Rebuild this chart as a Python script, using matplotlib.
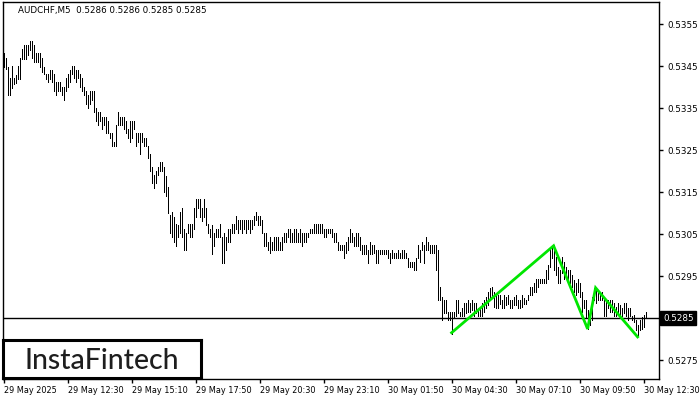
import matplotlib
import numpy as np

matplotlib.use("Agg")
import matplotlib.pyplot as plt
import matplotlib.transforms as mtransforms

symbol_line = "AUDCHF,M5  0.5286 0.5286 0.5285 0.5285"

# 5-minute bars, high / low in points (price * 1e5)
high_pts = [
    53480, 53470, 53448, 53421, 53450, 53421, 53429, 53450, 53468, 53490,
    53500, 53500, 53500, 53510, 53510, 53500, 53482, 53482, 53482, 53470,
    53448, 53430, 53430, 53440, 53440, 53430, 53411, 53411, 53411, 53401,
    53401, 53421, 53430, 53440, 53450, 53450, 53440, 53440, 53430, 53421,
    53401, 53390, 53380, 53390, 53390, 53390, 53349, 53340, 53340, 53329,
    53329, 53329, 53320, 53290, 53290, 53270, 53310, 53340, 53329, 53329,
    53329, 53320, 53300, 53320, 53320, 53320, 53290, 53290, 53290, 53290,
    53279, 53279, 53260, 53240, 53210, 53190, 53200, 53210, 53222, 53222,
    53210, 53187, 53163, 53095, 53103, 53091, 53075, 53071, 53103, 53111,
    53063, 53052, 53073, 53073, 53073, 53111, 53133, 53133, 53133, 53111,
    53133, 53111, 53073, 53063, 53071, 53052, 53061, 53061, 53074, 53044,
    53052, 53044, 53061, 53061, 53074, 53074, 53093, 53083, 53083, 53083,
    53083, 53083, 53083, 53083, 53083, 53093, 53102, 53093, 53093, 53083,
    53052, 53052, 53032, 53042, 53032, 53042, 53042, 53042, 53032, 53042,
    53052, 53052, 53061, 53061, 53052, 53061, 53061, 53052, 53061, 53052,
    53052, 53052, 53052, 53061, 53061, 53074, 53074, 53074, 53074, 53074,
    53061, 53061, 53061, 53061, 53061, 53052, 53052, 53032, 53024, 53024,
    53024, 53032, 53042, 53061, 53052, 53042, 53052, 53052, 53042, 53024,
    53024, 53024, 53013, 53032, 53024, 53024, 53013, 53013, 53013, 53013,
    53013, 53013, 53013, 53004, 53013, 53004, 53004, 53013, 53004, 53013,
    53013, 53004, 52994, 52984, 52984, 52984, 52994, 53024, 53012, 53032,
    53024, 53042, 53032, 53024, 53024, 53024, 53024, 53013, 52925, 52901,
    52894, 52894, 52865, 52865, 52865, 52865, 52894, 52894, 52865, 52873,
    52885, 52885, 52893, 52885, 52893, 52885, 52885, 52873, 52873, 52885,
    52893, 52901, 52913, 52921, 52925, 52913, 52905, 52905, 52905, 52893,
    52905, 52901, 52905, 52893, 52893, 52901, 52905, 52893, 52893, 52905,
    52897, 52893, 52905, 52925, 52925, 52933, 52944, 52944, 52944, 52944,
    52944, 52964, 52976, 53012, 53016, 53024, 52996, 52972, 52964, 52996,
    52984, 52972, 52964, 52964, 52952, 52940, 52933, 52944, 52933, 52913,
    52894, 52894, 52869, 52865, 52901, 52921, 52921, 52913, 52909, 52913,
    52893, 52893, 52893, 52893, 52893, 52885, 52877, 52885, 52881, 52873,
    52885, 52885, 52873, 52873, 52855, 52857, 52845, 52833, 52845, 52853,
    52857, 52865,
]
low_pts = [
    53448, 53444, 53380, 53380, 53398, 53406, 53409, 53418, 53418, 53467,
    53467, 53467, 53476, 53488, 53468, 53459, 53459, 53459, 53448, 53436,
    53430, 53418, 53411, 53418, 53411, 53390, 53380, 53390, 53390, 53381,
    53369, 53390, 53401, 53411, 53430, 53421, 53411, 53421, 53401, 53390,
    53380, 53359, 53349, 53359, 53369, 53340, 53320, 53310, 53320, 53300,
    53310, 53290, 53290, 53279, 53260, 53260, 53260, 53310, 53310, 53310,
    53300, 53290, 53279, 53270, 53279, 53300, 53260, 53270, 53240, 53270,
    53260, 53260, 53230, 53200, 53171, 53160, 53171, 53190, 53200, 53200,
    53151, 53141, 53101, 53052, 53042, 53032, 53022, 53042, 53052, 53042,
    53012, 53012, 53052, 53042, 53042, 53061, 53091, 53111, 53091, 53081,
    53091, 53071, 53052, 53042, 53002, 53022, 53042, 53042, 53042, 52982,
    52982, 53012, 53032, 53032, 53052, 53052, 53061, 53052, 53061, 53052,
    53061, 53052, 53061, 53052, 53061, 53071, 53083, 53071, 53071, 53052,
    53021, 53021, 53012, 53004, 53012, 53012, 53012, 53012, 53012, 53012,
    53032, 53032, 53042, 53032, 53032, 53032, 53032, 53032, 53032, 53021,
    53032, 53032, 53042, 53052, 53052, 53052, 53052, 53052, 53052, 53052,
    53042, 53042, 53052, 53052, 53042, 53032, 53032, 53012, 53013, 53013,
    52992, 53004, 53013, 53032, 53032, 53021, 53021, 53021, 53012, 53002,
    53002, 53002, 52982, 53002, 53002, 53004, 52982, 52982, 53002, 53002,
    53002, 53002, 52992, 52982, 52992, 52992, 52992, 52992, 52992, 52992,
    52992, 52992, 52972, 52972, 52972, 52964, 52964, 52992, 52984, 53012,
    52982, 53012, 53012, 53004, 53004, 53004, 52964, 52893, 52893, 52845,
    52861, 52861, 52845, 52845, 52813, 52853, 52855, 52861, 52855, 52855,
    52855, 52861, 52865, 52865, 52869, 52855, 52861, 52855, 52855, 52855,
    52865, 52873, 52881, 52893, 52901, 52877, 52873, 52873, 52883, 52873,
    52873, 52881, 52883, 52873, 52873, 52881, 52881, 52873, 52873, 52877,
    52883, 52883, 52893, 52905, 52905, 52913, 52913, 52925, 52933, 52933,
    52933, 52933, 52944, 52972, 52992, 52964, 52952, 52933, 52933, 52956,
    52944, 52944, 52933, 52933, 52925, 52913, 52905, 52913, 52901, 52865,
    52873, 52853, 52825, 52833, 52845, 52893, 52885, 52893, 52893, 52893,
    52855, 52855, 52873, 52865, 52865, 52855, 52855, 52861, 52855, 52855,
    52861, 52855, 52845, 52855, 52845, 52841, 52821, 52810, 52821, 52825,
    52829, 52853,
]

# triple bottom pattern vertices: bar index, price
pattern_bars = [224, 275, 292, 296, 317]
pattern_prices = [0.52815, 0.53022, 0.52824, 0.52922, 0.52805]

last_price = 0.5285
price_ticks = [0.5275, 0.5285, 0.5295, 0.5305, 0.5315, 0.5325, 0.5335, 0.5345, 0.5355]
time_tick_bars = [0, 32, 64, 96, 128, 160, 192, 224, 256, 288, 320]
time_labels = [
    "29 May 2025", "29 May 12:30", "29 May 15:10", "29 May 17:50",
    "29 May 20:30", "29 May 23:10", "30 May 01:50", "30 May 04:30",
    "30 May 07:10", "30 May 09:50", "30 May 12:30",
]

highs = np.array(high_pts) / 1e5
lows = np.array(low_pts) / 1e5
idx = np.arange(len(highs))

fig = plt.figure(figsize=(7.0, 4.0), dpi=100)
ax = fig.add_axes([3 / 700, 21 / 400, 656 / 700, 377 / 400])

ax.vlines(idx, lows, highs, color="black", linewidth=0.72, antialiased=False, zorder=2)
ax.axhline(last_price, color="black", linewidth=1.0, zorder=3)
ax.plot(pattern_bars, pattern_prices, color="#00e600", linewidth=2.0, zorder=4,
        solid_joinstyle="miter")

ax.set_xlim(-0.3, 327.7)
ax.set_ylim(0.527048, 0.536024)

for side in ["top", "bottom", "left", "right"]:
    ax.spines[side].set_linewidth(1.0)
    ax.spines[side].set_color("black")

ax.yaxis.tick_right()
ax.set_yticks(price_ticks)
ax.set_yticklabels(["" if abs(p - last_price) < 1e-9 else f"{p:.4f}" for p in price_ticks])
ax.tick_params(axis="y", direction="out", length=3, width=1, pad=3, labelsize=6.3)

ax.set_xticks(time_tick_bars)
ax.set_xticklabels(time_labels, ha="left")
ax.tick_params(axis="x", direction="out", length=3, width=1, pad=2, labelsize=5.9)

# current price tag on the right axis
trans = mtransforms.blended_transform_factory(ax.transAxes, ax.transData)
ax.text(1.006, last_price, f"{last_price:.4f}", transform=trans, ha="left", va="center",
        fontsize=6.3, color="white", clip_on=False, zorder=6,
        bbox=dict(boxstyle="square,pad=0.3", facecolor="black", edgecolor="black"))

fig.text(18 / 700, 1 - 11 / 400, symbol_line, ha="left", va="center", fontsize=6.3)

# logo box
logo = fig.add_axes([3 / 700, 22 / 400, 198 / 700, 38 / 400])
logo.set_xticks([])
logo.set_yticks([])
for side in ["top", "bottom", "left", "right"]:
    logo.spines[side].set_linewidth(2.2)
logo.text(0.5, 0.45, "InstaFintech", ha="center", va="center", fontsize=20.5,
          family="Lato", weight="medium", color="#1e1e1e", transform=logo.transAxes)

fig.savefig("out.png", dpi=100)
